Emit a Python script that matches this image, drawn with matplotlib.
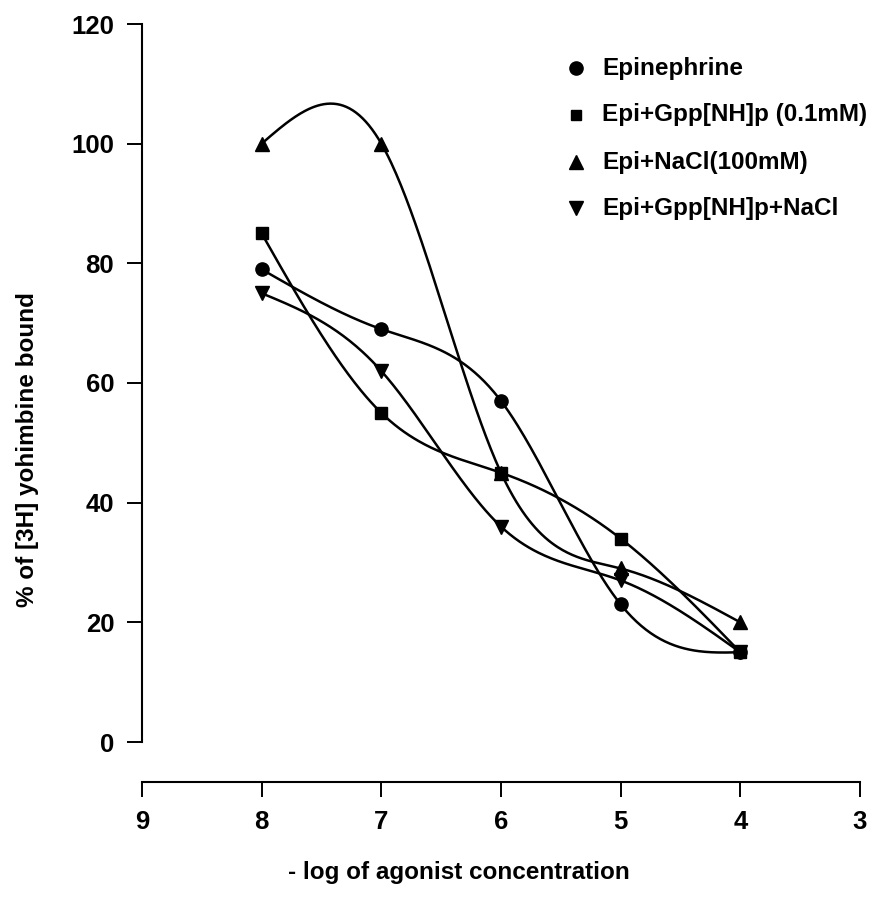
import numpy as np
import matplotlib
matplotlib.use("Agg")
import matplotlib.pyplot as plt
from matplotlib.lines import Line2D

plt.rcParams['font.family'] = ['Liberation Sans', 'DejaVu Sans']

# -log of agonist concentration
conc = [8, 7, 6, 5, 4]
epinephrine = [79, 69, 57, 23, 15]
epi_gpp = [85, 55, 45, 34, 15]
epi_nacl = [100, 100, 45, 29, 20]
epi_gpp_nacl = [75, 62, 36, 27, 15]

labels = ["Epinephrine", "Epi+Gpp[NH]p (0.1mM)", "Epi+NaCl(100mM)", "Epi+Gpp[NH]p+NaCl"]
markers = ["o", "s", "^", "v"]
x_ticks = [9, 8, 7, 6, 5, 4, 3]
y_ticks = [0, 20, 40, 60, 80, 100, 120]


def natural_spline(x, y, n=300):
    """Natural cubic spline through the points, sampled densely."""
    x = np.asarray(x, float)
    y = np.asarray(y, float)
    order = np.argsort(x)
    x, y = x[order], y[order]
    m = len(x)
    h = np.diff(x)
    A = np.zeros((m, m))
    b = np.zeros(m)
    A[0, 0] = A[-1, -1] = 1.0
    for i in range(1, m - 1):
        A[i, i - 1] = h[i - 1]
        A[i, i] = 2 * (h[i - 1] + h[i])
        A[i, i + 1] = h[i]
        b[i] = 6 * ((y[i + 1] - y[i]) / h[i] - (y[i] - y[i - 1]) / h[i - 1])
    M = np.linalg.solve(A, b)
    xs = np.linspace(x[0], x[-1], n)
    idx = np.clip(np.searchsorted(x, xs) - 1, 0, m - 2)
    x0, x1 = x[idx], x[idx + 1]
    hh = x1 - x0
    t0 = x1 - xs
    t1 = xs - x0
    ys = (M[idx] * t0 ** 3 + M[idx + 1] * t1 ** 3) / (6 * hh) \
        + (y[idx] / hh - M[idx] * hh / 6) * t0 \
        + (y[idx + 1] / hh - M[idx + 1] * hh / 6) * t1
    return xs, ys


W, H = 896, 914
fig = plt.figure(figsize=(W / 100, H / 100), dpi=100)


def fx(px):
    return px / W


def fy(py):
    return 1 - py / H


ax = fig.add_axes([fx(142), fy(742), fx(860) - fx(142), fy(24) - fy(742)])

series = [epinephrine, epi_gpp, epi_nacl, epi_gpp_nacl]
msizes = [9.5, 8.5, 9.5, 9.5]
for vals, mk, ms in zip(series, markers, msizes):
    xs, ys = natural_spline(conc, vals)
    ax.plot(xs, ys, color="black", lw=1.8, zorder=2)
    ax.plot(conc, vals, linestyle="none", marker=mk, ms=ms, color="black", zorder=3)

ax.set_xlim(9, 3)
ax.set_ylim(0, 120)
ax.set_xticks(x_ticks)
ax.set_yticks(y_ticks)
for s in ["top", "right"]:
    ax.spines[s].set_visible(False)
ax.spines["bottom"].set_position(("outward", 40 * 72 / 100))
for s in ["left", "bottom"]:
    ax.spines[s].set_linewidth(1.5)
ax.tick_params(axis="both", direction="out", length=11, width=1.4, labelsize=18.5)
ax.tick_params(axis="x", pad=9.5)
ax.tick_params(axis="y", pad=9)
for lab in ax.get_xticklabels() + ax.get_yticklabels():
    lab.set_fontweight("bold")

# axis titles
fig.text(fx(459), fy(872), "- log of agonist concentration", fontsize=17.5,
         fontweight="bold", ha="center", va="center")
fig.text(fx(28), fy(450), "% of [3H] yohimbine bound", fontsize=17.5,
         fontweight="bold", ha="center", va="center", rotation=90)

# key
key_rows = [68, 115, 162, 208]
key_sizes = [9.5, 6.5, 9.5, 9.5]
for row, mk, ms, text in zip(key_rows, markers, key_sizes, labels):
    fig.add_artist(Line2D([fx(576)], [fy(row)], transform=fig.transFigure,
                          linestyle="none", marker=mk, ms=ms, color="black"))
    fig.text(fx(602), fy(row), text, fontsize=17.5, fontweight="bold",
             ha="left", va="center")

fig.savefig("out.png", dpi=100)
